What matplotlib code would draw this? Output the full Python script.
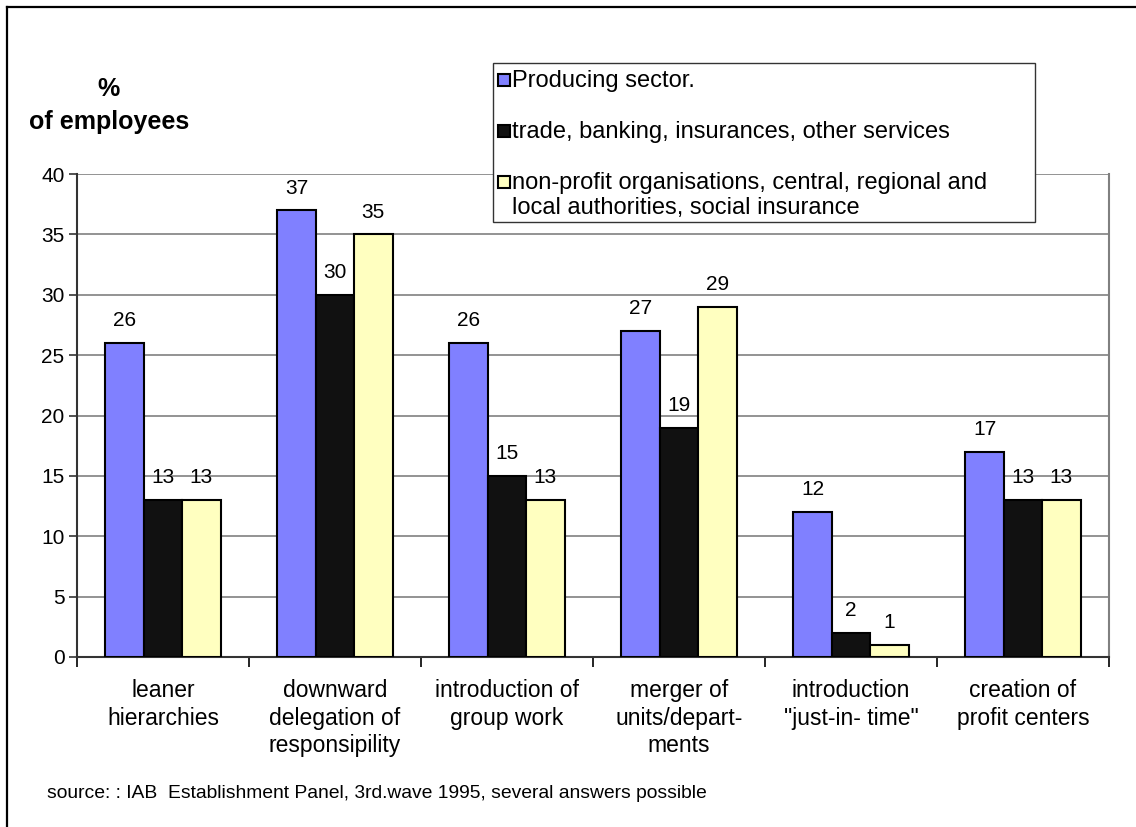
import matplotlib
matplotlib.use("Agg")
import matplotlib.pyplot as plt
from matplotlib.patches import Rectangle
from matplotlib.lines import Line2D
import numpy as np

plt.rcParams['font.family'] = ['Liberation Sans', 'DejaVu Sans']

categories = ["leaner\nhierarchies",
              "downward\ndelegation of\nresponsipility",
              "introduction of\ngroup work",
              "merger of\nunits/depart-\nments",
              "introduction\n\"just-in- time\"",
              "creation of\nprofit centers"]
series_names = ["Producing sector.",
                "trade, banking, insurances, other services",
                "non-profit organisations, central, regional and\nlocal authorities, social insurance"]
producing = [26, 37, 26, 27, 12, 17]
trade = [13, 30, 15, 19, 2, 13]
nonprofit = [13, 35, 13, 29, 1, 13]
colors = ["#8080FF", "#111111", "#FFFFC0"]
yticks = [0, 5, 10, 15, 20, 25, 30, 35, 40]

W, H = 1136, 827
fig = plt.figure(figsize=(W / 100, H / 100), dpi=100)
ax = fig.add_axes([77 / W, 170 / H, 1032 / W, 483 / H])

x = np.arange(len(categories))
bw = 0.223
for k, (vals, col) in enumerate(zip([producing, trade, nonprofit], colors)):
    bars = ax.bar(x + (k - 1) * bw, vals, width=bw, color=col,
                  edgecolor="black", linewidth=1.5, zorder=3)
    for b, v in zip(bars, vals):
        ax.annotate(str(v), (b.get_x() + b.get_width() / 2, v),
                    xytext=(0, 16), textcoords="offset points",
                    ha="center", va="center", fontsize=15, zorder=4)

ax.set_xlim(-0.5, len(categories) - 0.5)
ax.set_ylim(0, 40)
ax.set_yticks(yticks)
ax.set_yticklabels([str(t) for t in yticks], fontsize=15)
ax.yaxis.grid(True, color="#808080", linewidth=1.2, zorder=0)
ax.set_axisbelow(True)

ax.set_xticks(x)
ax.set_xticklabels(categories, fontsize=16.5, linespacing=1.25)
ax.tick_params(axis="x", which="major", length=0, pad=16)
ax.set_xticks(np.arange(-0.5, len(categories), 1.0), minor=True)
ax.tick_params(axis="x", which="minor", length=7, width=1.2, direction="out",
               color="black")
ax.tick_params(axis="y", length=6, width=1.2, direction="out", pad=3,
               color="#333333")

ax.spines["top"].set_visible(False)
ax.spines["right"].set_color("#808080")
ax.spines["right"].set_linewidth(1.5)
ax.spines["left"].set_color("#333333")
ax.spines["left"].set_linewidth(1.5)
ax.spines["bottom"].set_color("#333333")
ax.spines["bottom"].set_linewidth(1.5)

# y-axis title
fig.text(108 / W, 1 - 89 / H, "%", ha="center", va="center",
         fontsize=18, fontweight="bold")
fig.text(109 / W, 1 - 122 / H, "of employees", ha="center", va="center",
         fontsize=18, fontweight="bold")

# legend (manual box)
lx0, lx1, ly0, ly1 = 493, 1035, 63, 222
fig.patches.append(Rectangle((lx0 / W, 1 - ly1 / H), (lx1 - lx0) / W, (ly1 - ly0) / H,
                             transform=fig.transFigure, facecolor="white",
                             edgecolor="#333333", linewidth=1.0, zorder=5))
rows = [80, 131, 182]
for name, col, yc in zip(series_names, colors, rows):
    fig.patches.append(Rectangle((498 / W, 1 - (yc + 6) / H), 12 / W, 12 / H,
                                 transform=fig.transFigure, facecolor=col,
                                 edgecolor="black", linewidth=1.5, zorder=6))
    fig.text(512 / W, 1 - (yc - 10) / H, name, ha="left", va="top",
             fontsize=17, linespacing=1.2, zorder=7)

# source
fig.text(47 / W, 1 - 793 / H,
         "source: : IAB  Establishment Panel, 3rd.wave 1995, several answers possible",
         ha="left", va="center", fontsize=13.9)

# outer frame (left and top edges)
fig.add_artist(Line2D([7 / W, 7 / W], [0, 1 - 7 / H], transform=fig.transFigure,
                      color="black", linewidth=1.6))
fig.add_artist(Line2D([7 / W, 1], [1 - 7 / H, 1 - 7 / H], transform=fig.transFigure,
                      color="black", linewidth=1.6))

fig.savefig("out.png", dpi=100, facecolor="white")
